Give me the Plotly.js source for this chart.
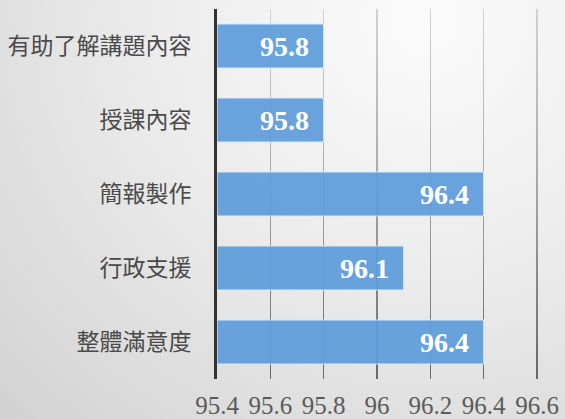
<!DOCTYPE html>
<html>
<head>
<meta charset="utf-8">
<script src="https://cdn.plot.ly/plotly-3.0.1.min.js"></script>
<style>
html,body{margin:0;padding:0;}
#chart{width:565px;height:419px;background:radial-gradient(ellipse at 75% 5%, #fbfbfb 0%, #ececec 45%, #d2d2d2 100%);}
</style>
</head>
<body>
<div id="chart"></div>
<script>
const categories = ["有助了解講題內容", "授課內容", "簡報製作", "行政支援", "整體滿意度"];
const values = [95.8, 95.8, 96.4, 96.1, 96.4];
const tickVals = [95.4, 95.6, 95.8, 96, 96.2, 96.4, 96.6];
const tickLabels = ["95.4", "95.6", "95.8", "96", "96.2", "96.4", "96.6"];
const baseValue = 95.4;

const numFont = '"Liberation Serif", serif';

const trace = {
  type: 'bar',
  orientation: 'h',
  y: categories,
  x: values.map(v => v - baseValue),
  base: baseValue,
  marker: {color: '#5f9ddb', opacity: 0.93, line: {color: '#d9e8f6', width: 1.2}},
  width: 0.595,
  hoverinfo: 'skip'
};

const annotations = categories.map((c, i) => ({
  x: values[i], y: c, xref: 'x', yref: 'y',
  text: String(values[i]),
  showarrow: false, xanchor: 'right', xshift: -13,
  font: {family: numFont, size: 28, color: '#ffffff', weight: 'bold'}
}));

const layout = {
  width: 565, height: 419,
  margin: {l: 217, r: 24, t: 9, b: 40},
  paper_bgcolor: 'rgba(0,0,0,0)',
  plot_bgcolor: 'rgba(0,0,0,0)',
  showlegend: false,
  xaxis: {
    range: [95.4, 96.615],
    tickvals: tickVals, ticktext: tickLabels,
    showgrid: true, gridcolor: '#a0a0a0', gridwidth: 1.5,
    zeroline: false, showline: false,
    ticks: '', ticklabelstandoff: 9,
    tickfont: {family: numFont, size: 25, color: '#5a5a5a'},
    fixedrange: true
  },
  yaxis: {
    type: 'category',
    categoryorder: 'array', categoryarray: categories,
    autorange: 'reversed',
    showline: true, linecolor: '#333333', linewidth: 3,
    showgrid: false, zeroline: false, ticks: '',
    ticklabelstandoff: 18,
    tickfont: {family: '"Noto Sans CJK TC", sans-serif', size: 23, color: '#4a4a4a'},
    fixedrange: true
  },
  annotations: annotations
};

Plotly.newPlot('chart', [trace], layout, {displayModeBar: false, staticPlot: true}).then(function (gd) {
  // vertical gradient on gridlines: light near the top, darker near the bottom
  const svg = gd.querySelector('svg.main-svg');
  const ns = 'http://www.w3.org/2000/svg';
  let defs = svg.querySelector('defs');
  if (!defs) { defs = document.createElementNS(ns, 'defs'); svg.insertBefore(defs, svg.firstChild); }
  const lg = document.createElementNS(ns, 'linearGradient');
  lg.setAttribute('id', 'gridGrad');
  lg.setAttribute('gradientUnits', 'userSpaceOnUse');
  lg.setAttribute('x1', '0'); lg.setAttribute('y1', '0');
  lg.setAttribute('x2', '0'); lg.setAttribute('y2', '370');
  [['0', '#d4d4d4'], ['0.5', '#a8a8a8'], ['1', '#6a6a6a']].forEach(function (s) {
    const st = document.createElementNS(ns, 'stop');
    st.setAttribute('offset', s[0]); st.setAttribute('stop-color', s[1]);
    lg.appendChild(st);
  });
  defs.appendChild(lg);
  gd.querySelectorAll('.xgrid').forEach(function (p) {
    p.style.stroke = 'url(#gridGrad)';
  });
});
</script>
</body>
</html>
